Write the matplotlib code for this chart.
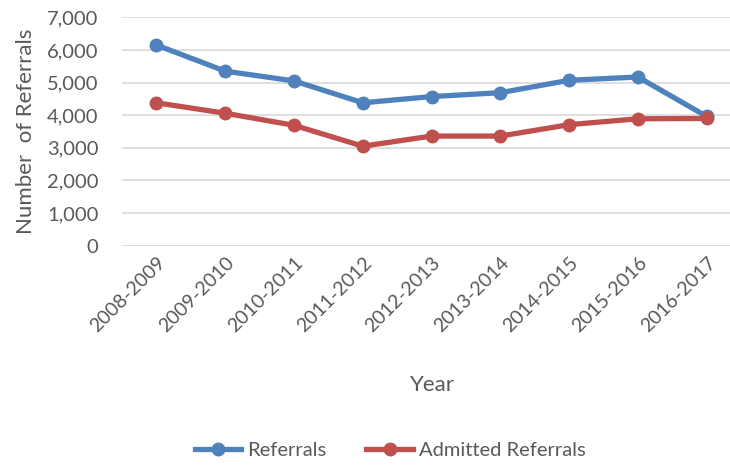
import matplotlib
matplotlib.use("Agg")
import matplotlib.pyplot as plt
from matplotlib.ticker import FuncFormatter, MultipleLocator

years = ["2008-2009", "2009-2010", "2010-2011", "2011-2012", "2012-2013",
         "2013-2014", "2014-2015", "2015-2016", "2016-2017"]
referrals = [6150, 5350, 5050, 4380, 4570, 4690, 5070, 5170, 3960]
admitted = [4380, 4060, 3690, 3050, 3360, 3360, 3710, 3890, 3900]

plt.rcParams['font.family'] = ['Lato', 'DejaVu Sans']
gray = '#595959'

fig = plt.figure(figsize=(7.3, 4.65), dpi=100)
ax = fig.add_axes([122/730, 1-245.7/465, 1-122/730, (245.7-17.3)/465])

x = list(range(len(years)))
ax.plot(x, referrals, color='#4F81BD', lw=3.8, marker='o', ms=9, label='Referrals',
        solid_joinstyle='round', zorder=3)
ax.plot(x, admitted, color='#C0504D', lw=3.8, marker='o', ms=9, label='Admitted Referrals',
        solid_joinstyle='round', zorder=4)

ax.set_xlim(-0.5, -0.5 + 608/68.8)
ax.set_ylim(0, 7000)
ax.yaxis.set_major_locator(MultipleLocator(1000))
ax.yaxis.set_major_formatter(FuncFormatter(lambda v, p: f"{int(v):,}"))
ax.grid(axis='y', color='#d9d9d9', lw=1.2)
ax.set_axisbelow(True)
for s in ax.spines.values():
    s.set_visible(False)
ax.tick_params(length=0, labelsize=14.5, colors=gray, pad=17)
ax.tick_params(axis='x', pad=6)
ax.set_xticks(x)
ax.set_xticklabels(years, rotation=45, ha='right', rotation_mode='anchor', fontsize=14)

ax.set_ylabel("Number  of Referrals", fontsize=16, color=gray, labelpad=8)
fig.text(432/730, 1-385/465, "Year", fontsize=16, color=gray, ha='center', va='center')

leg = fig.legend(loc='center', bbox_to_anchor=(390/730, 1-450/465), ncol=2, frameon=False,
                 fontsize=14.5, handlelength=2.3, columnspacing=2.0, handletextpad=0.3)
for t in leg.get_texts():
    t.set_color(gray)

fig.savefig("out.png", dpi=100)
